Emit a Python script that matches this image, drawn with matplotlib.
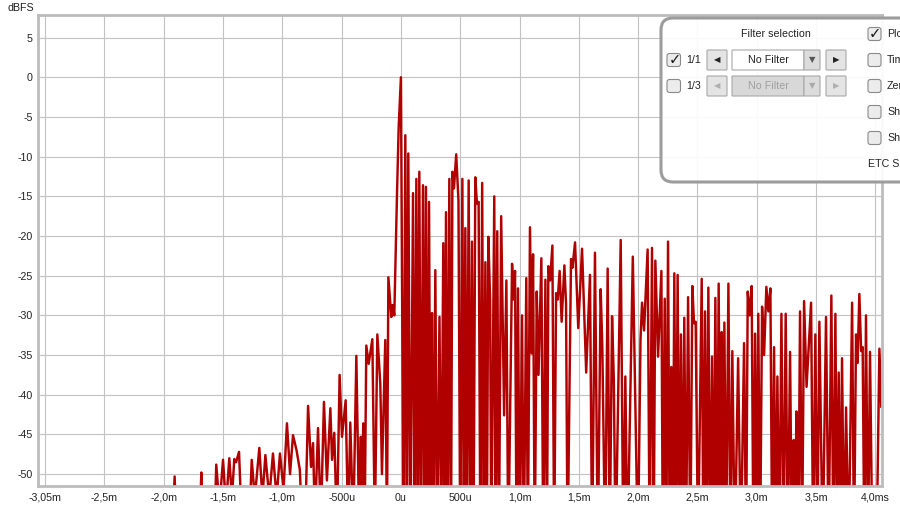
import matplotlib
matplotlib.use("Agg")
import matplotlib.pyplot as plt
from matplotlib.patches import FancyBboxPatch

plt.rcParams['font.family'] = ['Liberation Sans', 'DejaVu Sans']

# ETC trace: (time in ms, level in dBFS)
# values below the axis floor (-51.5) are the dips that fall off the plot
pre_ringing = [
    (-3.06, -70), (-1.93, -58), (-1.908, -50.3), (-1.89, -58), (-1.70, -58),
    (-1.683, -49.8), (-1.665, -58), (-1.575, -58), (-1.557, -48.8), (-1.53, -54),
    (-1.50, -48.2), (-1.475, -54), (-1.447, -48.0), (-1.425, -53), (-1.405, -48.1),
    (-1.39, -48.5), (-1.365, -47.2), (-1.345, -55), (-1.28, -57), (-1.258, -48.2),
    (-1.232, -53), (-1.194, -46.7), (-1.168, -53), (-1.143, -47.6), (-1.11, -53),
    (-1.079, -47.4), (-1.048, -53), (-1.020, -47.4), (-0.99, -52), (-0.961, -43.6),
    (-0.935, -50), (-0.910, -45.1), (-0.880, -47.0), (-0.852, -49.5), (-0.835, -56),
    (-0.800, -52), (-0.783, -41.4), (-0.758, -49.1), (-0.741, -46.1), (-0.725, -56),
    (-0.699, -44.2), (-0.675, -56), (-0.649, -40.9), (-0.624, -50.8), (-0.595, -41.7),
    (-0.581, -48.2), (-0.562, -44.8), (-0.540, -57), (-0.517, -37.5), (-0.497, -45.3),
    (-0.466, -40.7), (-0.445, -57), (-0.427, -43.5), (-0.402, -57), (-0.376, -35.1),
    (-0.352, -57), (-0.338, -45.3), (-0.330, -57), (-0.318, -43.6), (-0.306, -57),
    (-0.292, -33.8), (-0.272, -36.1), (-0.241, -33.0), (-0.220, -57), (-0.199, -32.4),
    (-0.174, -38.6), (-0.160, -50), (-0.132, -33.1), (-0.118, -57), (-0.106, -25.2),
    (-0.081, -30.2), (-0.070, -28.7), (-0.056, -30.0), (-0.033, -14.6), (-0.019, -6.3),
]

direct = [
    (0.000, 0.0), (0.022, -60), (0.037, -7.3), (0.050, -60), (0.062, -9.6),
    (0.080, -60), (0.102, -14.6), (0.116, -60), (0.130, -12.8), (0.143, -60),
    (0.155, -11.9), (0.170, -60), (0.186, -13.6), (0.199, -60), (0.211, -13.8),
    (0.224, -60), (0.237, -15.7), (0.250, -60), (0.262, -29.7), (0.274, -60),
    (0.290, -24.3), (0.305, -60), (0.325, -30.2), (0.340, -60), (0.357, -20.9),
    (0.368, -60), (0.380, -17.0), (0.394, -60), (0.408, -12.8), (0.422, -60),
    (0.434, -11.9), (0.447, -14.0), (0.466, -9.7), (0.485, -15.5), (0.500, -60),
    (0.518, -12.8), (0.530, -60), (0.543, -19.0), (0.556, -60), (0.571, -13.0),
    (0.585, -60), (0.599, -20.7), (0.612, -60), (0.627, -12.6), (0.641, -15.9),
    (0.655, -15.7), (0.670, -60), (0.685, -13.3), (0.698, -60), (0.712, -23.3),
    (0.724, -60), (0.737, -20.1), (0.752, -28.1), (0.762, -60), (0.787, -15.0),
    (0.798, -60), (0.812, -19.4), (0.826, -60), (0.845, -17.5), (0.870, -42.6),
    (0.889, -25.6), (0.905, -60), (0.937, -23.5), (0.950, -28.0), (0.962, -24.4),
    (0.975, -60), (0.987, -26.6),
]

decay_mid = [
    (1.002, -60), (1.021, -30.0), (1.036, -60), (1.057, -25.3), (1.070, -60),
    (1.088, -18.9), (1.102, -34.8), (1.114, -22.3), (1.128, -60), (1.145, -27.0),
    (1.160, -37.5), (1.184, -22.8), (1.200, -60), (1.218, -25.5), (1.231, -60),
    (1.243, -23.8), (1.258, -25.6), (1.277, -21.2), (1.292, -60), (1.308, -27.2),
    (1.322, -28.0), (1.338, -24.4), (1.355, -30.8), (1.378, -23.7), (1.392, -28.5),
    (1.405, -60), (1.434, -22.9), (1.446, -24.0), (1.468, -20.8), (1.495, -31.6),
    (1.527, -21.6), (1.562, -37.2), (1.594, -24.9), (1.612, -60), (1.636, -22.1),
    (1.660, -60), (1.684, -26.7), (1.698, -34.0), (1.722, -60), (1.743, -24.1),
    (1.760, -60), (1.780, -30.1), (1.795, -38.2), (1.810, -60), (1.853, -20.5),
    (1.875, -60), (1.892, -37.7), (1.910, -60), (1.955, -22.6), (1.998, -60),
    (2.020, -33.0), (2.033, -28.4), (2.050, -31.9), (2.080, -21.7), (2.097, -60),
    (2.117, -21.5), (2.131, -60), (2.145, -23.1), (2.168, -35.2), (2.196, -24.4),
    (2.208, -60), (2.224, -27.9), (2.237, -60), (2.252, -20.7), (2.266, -60),
    (2.280, -36.5), (2.292, -60), (2.305, -24.7), (2.319, -60), (2.333, -24.9),
    (2.347, -60), (2.361, -32.4), (2.375, -60), (2.389, -30.3), (2.404, -60),
    (2.421, -27.7), (2.440, -60), (2.457, -26.3), (2.471, -31.0), (2.485, -30.8),
]

decay_late = [
    (2.505, -60), (2.536, -25.4), (2.550, -60), (2.564, -29.5), (2.578, -60),
    (2.592, -26.5), (2.607, -60), (2.623, -35.2), (2.637, -60), (2.651, -27.8),
    (2.665, -60), (2.679, -26.0), (2.692, -60), (2.704, -32.1), (2.716, -60),
    (2.727, -30.9), (2.742, -60), (2.761, -26.0), (2.778, -60), (2.794, -34.5),
    (2.815, -60), (2.843, -35.4), (2.866, -60), (2.893, -33.5), (2.910, -60),
    (2.924, -27.0), (2.940, -30.0), (2.957, -26.3), (2.972, -60), (2.986, -32.3),
    (3.000, -60), (3.013, -29.8), (3.028, -60), (3.045, -28.9), (3.062, -35.0),
    (3.081, -26.4), (3.098, -29.5), (3.115, -26.6), (3.130, -60), (3.146, -34.0),
    (3.160, -60), (3.174, -37.7), (3.190, -60), (3.208, -29.8), (3.226, -60),
    (3.244, -29.8), (3.262, -60), (3.281, -34.6), (3.296, -60), (3.311, -45.7),
    (3.322, -60), (3.334, -42.1), (3.350, -60), (3.365, -29.5), (3.382, -60),
    (3.399, -28.2), (3.420, -39.0), (3.458, -28.4), (3.476, -60), (3.494, -32.4),
    (3.511, -60), (3.528, -30.8), (3.556, -60), (3.584, -30.2), (3.606, -60),
    (3.629, -27.5), (3.646, -60), (3.663, -29.8), (3.677, -60), (3.691, -37.2),
    (3.705, -60), (3.719, -35.4), (3.736, -60), (3.753, -41.6), (3.775, -60),
    (3.804, -28.4), (3.820, -60), (3.837, -32.4), (3.850, -36.0), (3.865, -27.3),
    (3.880, -34.5), (3.893, -34.0), (3.907, -60), (3.921, -30.0), (3.938, -60),
    (3.955, -34.6), (3.975, -60), (4.010, -60), (4.034, -34.2), (4.050, -41.5),
]

y_ticks = [5, 0, -5, -10, -15, -20, -25, -30, -35, -40, -45, -50]
x_ticks = [-3.0, -2.5, -2.0, -1.5, -1.0, -0.5, 0.0, 0.5, 1.0, 1.5, 2.0, 2.5, 3.0, 3.5, 4.0]
x_labels = ["-3,05m", "-2,5m", "-2,0m", "-1,5m", "-1,0m", "-500u", "0u", "500u",
            "1,0m", "1,5m", "2,0m", "2,5m", "3,0m", "3,5m", "4,0ms"]

trace = pre_ringing + direct + decay_mid + decay_late
t_ms = [p[0] for p in trace]
level = [p[1] for p in trace]

fig = plt.figure(figsize=(9, 5.08), dpi=100)
ax = fig.add_axes([38 / 900, 1 - 486 / 508, 844 / 900, 471 / 508])

ax.plot(t_ms, level, color='#b00000', lw=1.75, solid_joinstyle='round')
ax.set_xlim(-3.06, 4.056)
ax.set_ylim(-51.5, 7.85)
ax.set_xticks(x_ticks)
ax.set_xticklabels(x_labels)
ax.set_yticks(y_ticks)
ax.set_yticklabels([str(v) for v in y_ticks])
ax.tick_params(length=0, labelsize=7.7, colors='#222222')
ax.tick_params(axis='x', pad=5)
ax.tick_params(axis='y', pad=4)
ax.grid(True, color='#c2c2c2', lw=0.8)
ax.set_axisbelow(True)
for s in ax.spines.values():
    s.set_color('#bcbcbc')
    s.set_linewidth(2)

# overlay in pixel coords for the label and the filter panel
ov = fig.add_axes([0, 0, 1, 1], zorder=5)
ov.set_xlim(0, 900)
ov.set_ylim(508, 0)
ov.axis('off')

ov.text(7, 8, "dBFS", fontsize=7.7, va='center', ha='left', color='#222222')


def box(x0, y0, x1, y1, fc, ec='#9a9a9a', r=2, lw=0.8):
    ov.add_patch(FancyBboxPatch((x0, y0), x1 - x0, y1 - y0,
                                boxstyle=f"round,pad=0,rounding_size={r}",
                                fc=fc, ec=ec, lw=lw))


# panel (cut by the right edge, as in the screenshot)
box(661, 18, 930, 182, fc=(1, 1, 1, 0.93), ec='#9c9c9c', r=12, lw=2.2)
ov.text(776, 34, "Filter selection", fontsize=7.7, ha='center', va='center', color='#222')

rows = [(60, True, "1/1", False), (86, False, "1/3", True)]
for yc, checked, lab, grey in rows:
    box(667, yc - 6.5, 680.5, yc + 6.5, fc='#ececec', ec='#8a8a8a', r=2.5)
    if checked:
        ov.text(674.5, yc - 0.5, "✓", fontsize=10.5, fontweight='bold', ha='center', va='center',
                color='#1a1a1a', family='DejaVu Sans')
    ov.text(686.5, yc, lab, fontsize=7.7, ha='left', va='center', color='#222')
    arrow_c = '#b0b0b0' if grey else '#222'
    box(707, yc - 10, 727, yc + 10, fc='#e4e4e4', ec='#a8a8a8', r=1)
    ov.text(717, yc, "◀", fontsize=6, ha='center', va='center', color=arrow_c, family='DejaVu Sans')
    box(732, yc - 10, 804, yc + 10, fc='#d8d8d8' if grey else 'white', ec='#a8a8a8', r=0.5)
    ov.text(768, yc, "No Filter", fontsize=7.7, ha='center', va='center',
            color='#a0a0a0' if grey else '#222')
    box(804, yc - 10, 820, yc + 10, fc='#dcdcdc', ec='#a8a8a8', r=0.5)
    ov.text(812, yc, "▼", fontsize=6, ha='center', va='center', color='#555' if not grey else '#aaa',
            family='DejaVu Sans')
    box(826, yc - 10, 846, yc + 10, fc='#e4e4e4', ec='#a8a8a8', r=1)
    ov.text(836, yc, "▶", fontsize=6, ha='center', va='center', color=arrow_c, family='DejaVu Sans')

opts = [(34, True, "Plot"), (60, False, "Time"), (86, False, "Zero"),
        (112, False, "Show"), (138, False, "Show")]
for yc, checked, lab in opts:
    box(868, yc - 6.5, 881, yc + 6.5, fc='#ececec', ec='#8a8a8a', r=2.5)
    if checked:
        ov.text(875, yc - 0.5, "✓", fontsize=10.5, fontweight='bold', ha='center', va='center',
                color='#1a1a1a', family='DejaVu Sans')
    ov.text(887, yc, lab, fontsize=7.7, ha='left', va='center', color='#222')
ov.text(868, 164, "ETC Smoothing", fontsize=7.7, ha='left', va='center', color='#222')

fig.savefig("out.png", dpi=100)
